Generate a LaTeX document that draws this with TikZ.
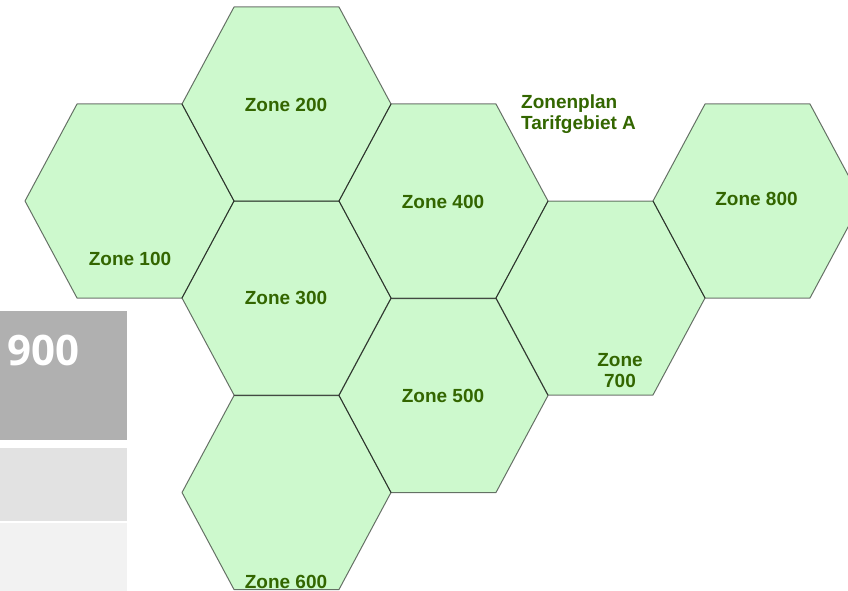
\documentclass[tikz,border=0pt]{standalone}
\usepackage{fontspec}
\setmainfont{Liberation Sans}
\newfontfamily\numfont{Open Sans}
\usepackage{tikz}
\usetikzlibrary{positioning}

\definecolor{zonefill}{RGB}{205,249,205}
\definecolor{zonetext}{RGB}{51,102,0}
\definecolor{legenddark}{RGB}{176,176,176}
\definecolor{legendmid}{RGB}{226,226,226}
\definecolor{legendlight}{RGB}{242,242,242}

\tikzset{
  zonelabel/.style={font=\bfseries\fontsize{19}{21}\selectfont, text=zonetext, inner sep=0pt, align=center},
  zoneedge/.style={draw=black, draw opacity=0.55, line width=1pt, line join=round},
}

\begin{document}
\begin{tikzpicture}[x=1pt, y=-1pt]
        \useasboundingbox (0,0) rectangle (848,591);
        \clip (0,0) rectangle (848,591);

        % Legend boxes
        \fill[legenddark] (0,311) rectangle (127,440);
        \fill[legendmid] (0,448) rectangle (127,521);
        \fill[legendlight] (0,523) rectangle (127,591);
        \node[font=\numfont\bfseries\fontsize{42}{42}\selectfont, text=white, inner sep=0pt] (n900) at (43,350.5) {900};

        % Hexagons (fill first, then outlines so shared edges come out darker)
        \def\zonecentres{129.5/201, 286.5/104, 286.5/298, 286.5/492.5, 443.5/201, 443.5/395.5, 600.5/298, 757.5/201}
        \foreach \cx/\cy in \zonecentres
            \fill[zonefill] (\cx,\cy) ++(-104.5,0) -- ++(52,-97) -- ++(105,0) -- ++(52,97) -- ++(-52,97) -- ++(-105,0) -- cycle;
        \foreach \cx/\cy in \zonecentres
            \draw[zoneedge] (\cx,\cy) ++(-104.5,0) -- ++(52,-97) -- ++(105,0) -- ++(52,97) -- ++(-52,97) -- ++(-105,0) -- cycle;

        % Zone labels
        \node[zonelabel] (z100) at (130,259) {Zone 100};
        \node[zonelabel] (z200) at (286,104.5) {Zone 200};
        \node[zonelabel] (z300) at (286,298) {Zone 300};
        \node[zonelabel] (z400) at (443,202) {Zone 400};
        \node[zonelabel] (z500) at (443,396) {Zone 500};
        \node[zonelabel] (z600) at (286,582) {Zone 600};
        \node[zonelabel] (z700) at (620,371) {Zone\\700};
        \node[zonelabel] (z800) at (756.5,199) {Zone 800};

        % Title
        \node[zonelabel, align=left, anchor=north west] (title) at (521,95) {Zonenplan\\Tarifgebiet A};
    \end{tikzpicture}
\end{document}
